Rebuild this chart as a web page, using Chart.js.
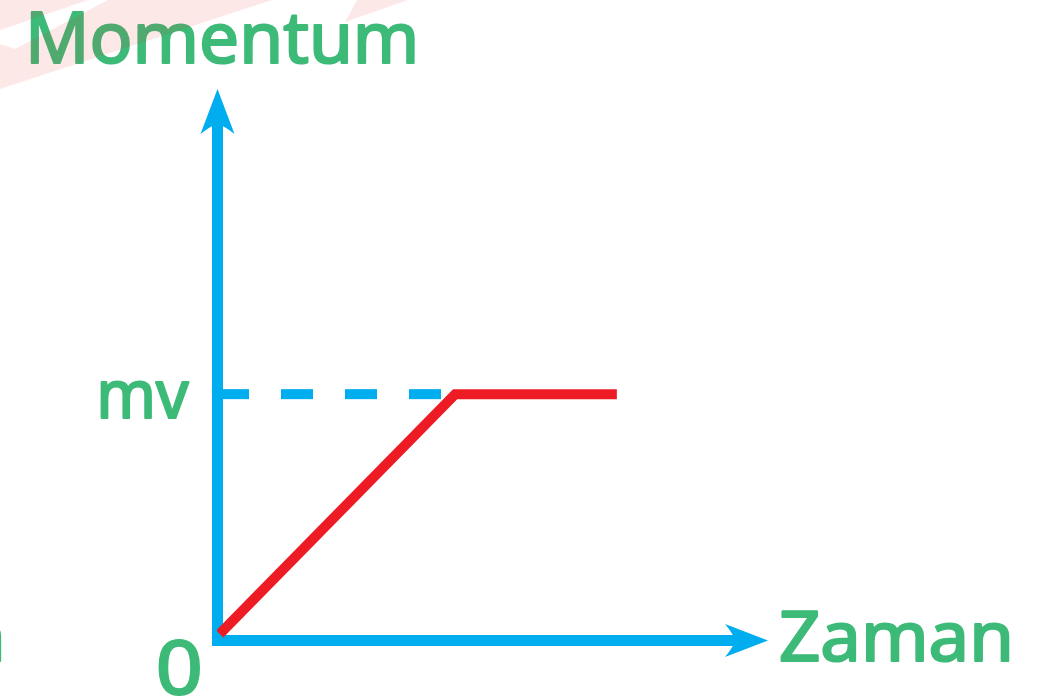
<!DOCTYPE html>
<html>
<head>
<meta charset="utf-8">
<script src="https://cdn.jsdelivr.net/npm/chart.js@4/dist/chart.umd.min.js"></script>
<style>
  html, body { margin: 0; padding: 0; background: #ffffff; overflow: hidden; }
  #wrap { width: 1049px; height: 697px; position: relative; }
</style>
</head>
<body>
<div id="wrap"><canvas id="c" width="1049" height="697"></canvas></div>
<script>
// ---- data ----
const momentumTime  = [0.05, 4.33, 7.27];   // time values of the red curve
const momentumValue = [0.11, 4.47, 4.47];   // momentum values of the red curve
const guideTime  = [0, 4.33];               // dashed guide at mv
const guideValue = [4.47, 4.47];
const mvLevel = 4.47;
const xAxisTitle = 'Zaman';
const yAxisTitle = 'Momentum';
const mvLabel = 'mv';
const originLabel = '0';
const axisMin = 0, axisMax = 10;

// ---- style ----
const BLUE = '#00aeef';
const RED = '#ed1c24';
const GREEN = '#3dba78';
const FONT = '"Noto Sans", "DejaVu Sans", sans-serif';

function pts(xs, ys) { return xs.map((x, i) => ({ x: x, y: ys[i] })); }

function fitText(ctx, text, x, baseline, size, targetWidth, align) {
  ctx.save();
  ctx.font = size + 'px ' + FONT;
  ctx.textBaseline = 'alphabetic';
  ctx.textAlign = 'left';
  const m = ctx.measureText(text);
  const inkW = m.actualBoundingBoxRight + m.actualBoundingBoxLeft;
  const sx = targetWidth ? targetWidth / inkW : 1;
  let left = x;
  if (align === 'right') left = x - inkW * sx;
  ctx.translate(left, baseline);
  ctx.scale(sx, 1);
  ctx.lineWidth = 2.2;
  ctx.lineJoin = 'round';
  ctx.strokeStyle = ctx.fillStyle;
  ctx.fillText(text, m.actualBoundingBoxLeft, 0);
  ctx.strokeText(text, m.actualBoundingBoxLeft, 0);
  ctx.restore();
}

const axesPlugin = {
  id: 'arrowAxes',
  beforeDatasetsDraw(chart) {
    const ctx = chart.ctx;
    const xs = chart.scales.x, ys = chart.scales.y;
    const x0 = xs.getPixelForValue(axisMin), y0 = ys.getPixelForValue(axisMin);
    const xEnd = xs.getPixelForValue(axisMax), yEnd = ys.getPixelForValue(axisMax);
    ctx.save();
    ctx.fillStyle = BLUE;
    // y axis shaft
    ctx.fillRect(x0 - 5, yEnd + 30, 11, (y0 + 6) - (yEnd + 30));
    // x axis shaft
    ctx.fillRect(x0 - 5, y0 - 5, (xEnd - 30) - (x0 - 5), 11);
    // y arrow head
    ctx.beginPath();
    ctx.moveTo(x0 + 0.5, yEnd - 1);
    ctx.lineTo(x0 + 17.5, yEnd + 44);
    ctx.quadraticCurveTo(x0 + 6, yEnd + 35, x0 + 0.5, yEnd + 34);
    ctx.quadraticCurveTo(x0 - 5, yEnd + 35, x0 - 16.5, yEnd + 44);
    ctx.closePath();
    ctx.fill();
    // x arrow head
    ctx.beginPath();
    ctx.moveTo(xEnd + 1, y0 + 0.5);
    ctx.lineTo(xEnd - 42, y0 + 17);
    ctx.quadraticCurveTo(xEnd - 33, y0 + 6, xEnd - 32, y0 + 0.5);
    ctx.quadraticCurveTo(xEnd - 33, y0 - 5, xEnd - 42, y0 - 16);
    ctx.closePath();
    ctx.fill();
    ctx.restore();
  },
  afterDraw(chart) {
    const ctx = chart.ctx;
    const xs = chart.scales.x, ys = chart.scales.y;
    const x0 = xs.getPixelForValue(axisMin), y0 = ys.getPixelForValue(axisMin);
    const xEnd = xs.getPixelForValue(axisMax);
    const yMv = ys.getPixelForValue(mvLevel);
    ctx.save();
    ctx.fillStyle = GREEN;
    fitText(ctx, yAxisTitle, 31, 63, 71, 383);
    fitText(ctx, xAxisTitle, xEnd + 14, y0 + 21, 69, 228);
    fitText(ctx, mvLabel, x0 - 28, yMv + 24, 68, 88, 'right');
    fitText(ctx, originLabel, x0 - 58, y0 + 54, 74, 40);
    fitText(ctx, 'n', -32, y0 + 21, 69, 0);
    // faint watermark
    ctx.fillStyle = 'rgba(235,50,50,0.11)';
    ctx.beginPath();
    ctx.moveTo(0, 0); ctx.lineTo(88, 0); ctx.lineTo(0, 30); ctx.closePath();
    ctx.fill();
    ctx.beginPath();
    ctx.moveTo(0, 44); ctx.lineTo(15, 49); ctx.lineTo(108, 0); ctx.lineTo(272, 0); ctx.lineTo(0, 89); ctx.closePath();
    ctx.fill();
    ctx.beginPath();
    ctx.moveTo(345, 22); ctx.lineTo(357, 0); ctx.lineTo(408, 0); ctx.closePath();
    ctx.fill();
    ctx.restore();
  }
};

new Chart(document.getElementById('c'), {
  type: 'line',
  data: {
    datasets: [
      {
        label: 'guide',
        data: pts(guideTime, guideValue),
        borderColor: BLUE,
        borderWidth: 10,
        borderDash: [32, 32],
        borderCapStyle: 'butt',
        pointRadius: 0,
        tension: 0,
        order: 2
      },
      {
        label: 'momentum',
        data: pts(momentumTime, momentumValue),
        borderColor: RED,
        borderWidth: 10,
        borderCapStyle: 'butt',
        borderJoinStyle: 'miter',
        pointRadius: 0,
        tension: 0,
        order: 1
      }
    ]
  },
  options: {
    responsive: false,
    animation: false,
    devicePixelRatio: 1,
    layout: { padding: { left: 217, right: 282, top: 90, bottom: 57 } },
    plugins: { legend: { display: false }, tooltip: { enabled: false }, title: { display: false } },
    scales: {
      x: { type: 'linear', min: axisMin, max: axisMax, display: false },
      y: { type: 'linear', min: axisMin, max: axisMax, display: false }
    },
    events: []
  },
  plugins: [axesPlugin]
});
</script>
</body>
</html>
